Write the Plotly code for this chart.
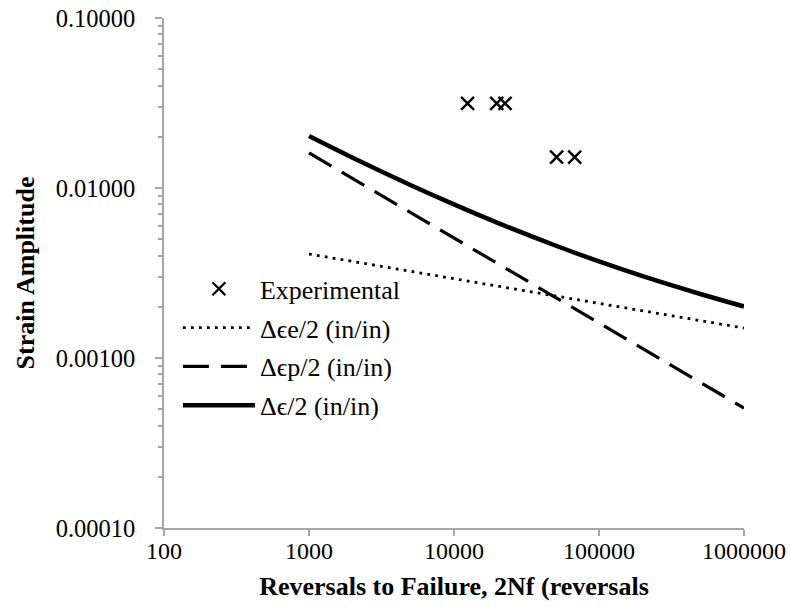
import plotly.graph_objects as go

# Experimental data
exp_x = [12400, 19700, 22500, 51000, 68000]
exp_y = [0.0315, 0.0315, 0.0315, 0.0152, 0.0152]

# Elastic strain amplitude (straight line on log-log)
el_x = [1000, 1000000]
el_y = [0.00409, 0.00150]

# Plastic strain amplitude
pl_x = [1000, 1000000]
pl_y = [0.01607, 0.000508]

# Total strain amplitude
tot_x = [1000, 2000, 5000, 10000, 20000, 50000, 100000, 200000, 500000, 1000000]
tot_y = [0.0202, 0.01506, 0.01042, 0.00801, 0.00624, 0.00459, 0.00370, 0.00303, 0.00238, 0.00201]

x_ticks = [100, 1000, 10000, 100000, 1000000]
y_ticks = [0.0001, 0.001, 0.01, 0.1]

FONT = "Liberation Serif"

fig = go.Figure()
fig.add_trace(go.Scatter(x=exp_x, y=exp_y, mode="markers", name="Experimental",
                         marker=dict(symbol="x-thin", size=13, color="black",
                                     line=dict(width=2.4, color="black")),
                         legendgroup="a"))
fig.add_trace(go.Scatter(x=el_x, y=el_y, mode="lines", name="Δϵe/2 (in/in)",
                         line=dict(color="black", width=2.8, dash="2.8px,5.2px"),
                         legendgroup="b"))
fig.add_trace(go.Scatter(x=pl_x, y=pl_y, mode="lines", name="Δϵp/2 (in/in)",
                         line=dict(color="black", width=3.2, dash="26px,12px"),
                         legendgroup="c"))
fig.add_trace(go.Scatter(x=tot_x, y=tot_y, mode="lines", name="Δϵ/2 (in/in)",
                         line=dict(color="black", width=4.5, shape="spline"),
                         legendgroup="d"))

axis_color = "#a6a6a6"
fig.update_layout(
    width=791, height=609,
    margin=dict(l=164, r=47, t=18, b=81),
    paper_bgcolor="white", plot_bgcolor="white",
    font=dict(family=FONT, size=24, color="black"),
    showlegend=True,
    legend=dict(x=0.024, y=0.515, xanchor="left", yanchor="top",
                bgcolor="rgba(0,0,0,0)", font=dict(family=FONT, size=26),
                tracegroupgap=2, traceorder="grouped", itemwidth=72),
    xaxis=dict(type="log", range=[2, 6], tickvals=x_ticks,
               ticktext=[str(v) for v in x_ticks], automargin=False,
               showgrid=False, zeroline=False, showline=True,
               linecolor=axis_color, linewidth=1.5,
               ticks="outside", ticklen=6, tickcolor=axis_color, tickwidth=1.5,
               ticklabelstandoff=-6, ticklabeloverflow="allow",
               tickfont=dict(family=FONT, size=24),
               title=dict(text="<b>Reversals to Failure, 2Nf (reversals</b>",
                          font=dict(family=FONT, size=26), standoff=14)),
    yaxis=dict(type="log", range=[-4, -1], tickvals=y_ticks,
               ticktext=["%.5f" % v for v in y_ticks], automargin=False,
               showgrid=False, zeroline=False, showline=True,
               linecolor=axis_color, linewidth=1.5,
               ticks="outside", ticklen=7, tickcolor=axis_color, tickwidth=1.5,
               ticklabelstandoff=15, ticklabeloverflow="allow",
               tickfont=dict(family=FONT, size=24.5),
               minor=dict(ticks="outside", ticklen=4, tickcolor=axis_color,
                          tickwidth=1.5, dtick="D1", showgrid=False),
               title=dict(text="<b>Strain Amplitude</b>",
                          font=dict(family=FONT, size=26), standoff=14)),
)

fig.write_html("out.html",
               config={"displayModeBar": False},
               post_script="document.body.style.margin='0';document.body.style.overflow='hidden';")
